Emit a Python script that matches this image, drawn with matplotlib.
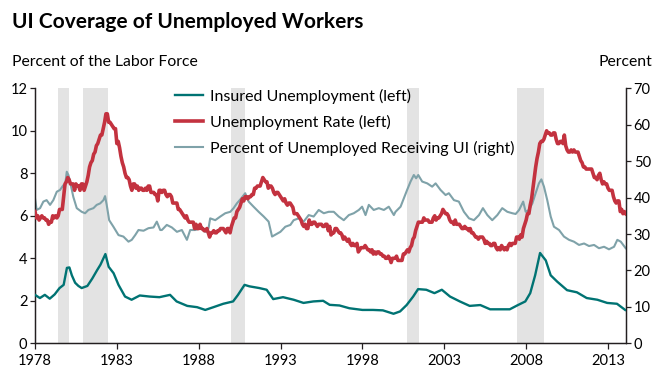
import numpy as np
import matplotlib
matplotlib.use("Agg")
import matplotlib.pyplot as plt
from matplotlib.lines import Line2D

plt.rcParams['font.family'] = ['Lato', 'DejaVu Sans']

# ---------------- data ----------------
# Unemployment rate (left axis), monthly, first point drawn at the chart's 1978 tick
unemp_start = 1978.0
unemp_rate = [
    6.2, 5.9, 6.0, 5.8, 5.9, 6.0,
    5.9, 5.9, 5.8, 5.8, 5.6, 5.7, 5.7, 6.0, 5.9, 6.0, 5.9, 6.0,
    6.3, 6.3, 6.3, 6.9, 7.5, 7.6, 7.8, 7.7, 7.5, 7.5, 7.5, 7.2,
    7.5, 7.4, 7.4, 7.2, 7.5, 7.5, 7.2, 7.4, 7.6, 7.9, 8.3, 8.5,
    8.6, 8.9, 9.0, 9.3, 9.4, 9.6, 9.8, 9.8, 10.1, 10.4, 10.8, 10.8,
    10.4, 10.4, 10.3, 10.2, 10.1, 10.1, 9.4, 9.5, 9.2, 8.8, 8.5, 8.3,
    8.0, 7.8, 7.8, 7.7, 7.4, 7.2, 7.5, 7.5, 7.3, 7.4, 7.2, 7.3,
    7.3, 7.2, 7.2, 7.3, 7.2, 7.4, 7.4, 7.1, 7.1, 7.1, 7.0, 7.0,
    6.7, 7.2, 7.2, 7.1, 7.2, 7.2, 7.0, 6.9, 7.0, 7.0, 6.9, 6.6,
    6.6, 6.6, 6.6, 6.3, 6.3, 6.2, 6.1, 6.0, 5.9, 6.0, 5.8, 5.7,
    5.7, 5.7, 5.7, 5.4, 5.6, 5.4, 5.4, 5.6, 5.4, 5.4, 5.3, 5.3,
    5.4, 5.2, 5.0, 5.2, 5.2, 5.3, 5.2, 5.2, 5.3, 5.3, 5.4, 5.4,
    5.4, 5.3, 5.2, 5.4, 5.4, 5.2, 5.5, 5.7, 5.9, 5.9, 6.2, 6.3,
    6.4, 6.6, 6.8, 6.7, 6.9, 6.9, 6.8, 6.9, 6.9, 7.0, 7.0, 7.3,
    7.3, 7.4, 7.4, 7.4, 7.6, 7.8, 7.7, 7.6, 7.6, 7.3, 7.4, 7.4,
    7.3, 7.1, 7.0, 7.1, 7.1, 7.0, 6.9, 6.8, 6.7, 6.8, 6.6, 6.5,
    6.6, 6.6, 6.5, 6.4, 6.1, 6.1, 6.1, 6.0, 5.9, 5.8, 5.6, 5.5,
    5.6, 5.4, 5.4, 5.8, 5.6, 5.6, 5.7, 5.7, 5.6, 5.5, 5.6, 5.6,
    5.6, 5.5, 5.5, 5.6, 5.6, 5.3, 5.5, 5.1, 5.2, 5.2, 5.4, 5.4,
    5.3, 5.2, 5.2, 5.1, 4.9, 5.0, 4.9, 4.8, 4.9, 4.7, 4.6, 4.7,
    4.6, 4.6, 4.7, 4.3, 4.4, 4.5, 4.5, 4.5, 4.6, 4.5, 4.4, 4.4,
    4.3, 4.4, 4.2, 4.3, 4.2, 4.3, 4.3, 4.2, 4.2, 4.1, 4.1, 4.0,
    4.0, 4.1, 4.0, 3.8, 4.0, 4.0, 4.0, 4.1, 3.9, 3.9, 3.9, 3.9,
    4.2, 4.2, 4.3, 4.4, 4.3, 4.5, 4.6, 4.9, 5.0, 5.3, 5.5, 5.7,
    5.7, 5.7, 5.7, 5.9, 5.8, 5.8, 5.8, 5.7, 5.7, 5.7, 5.9, 6.0,
    5.8, 5.9, 5.9, 6.0, 6.1, 6.3, 6.2, 6.1, 6.1, 6.0, 5.8, 5.7,
    5.7, 5.6, 5.8, 5.6, 5.6, 5.6, 5.5, 5.4, 5.4, 5.5, 5.4, 5.4,
    5.3, 5.4, 5.2, 5.2, 5.1, 5.0, 5.0, 4.9, 5.0, 5.0, 5.0, 4.9,
    4.7, 4.8, 4.7, 4.7, 4.6, 4.6, 4.7, 4.7, 4.5, 4.4, 4.5, 4.4,
    4.6, 4.5, 4.4, 4.5, 4.4, 4.6, 4.7, 4.6, 4.7, 4.7, 4.7, 5.0,
    5.0, 4.9, 5.1, 5.0, 5.4, 5.6, 5.8, 6.1, 6.1, 6.5, 6.8, 7.3,
    7.8, 8.3, 8.7, 9.0, 9.4, 9.5, 9.5, 9.6, 9.8, 10.0, 9.9, 9.9,
    9.8, 9.8, 9.9, 9.9, 9.6, 9.4, 9.4, 9.5, 9.5, 9.4, 9.8, 9.3,
    9.1, 9.0, 9.0, 9.1, 9.0, 9.1, 9.0, 9.0, 9.0, 8.8, 8.6, 8.5,
    8.3, 8.3, 8.2, 8.2, 8.2, 8.2, 8.2, 8.0, 7.8, 7.8, 7.7, 7.9,
    8.0, 7.7, 7.5, 7.6, 7.5, 7.5, 7.3, 7.2, 7.2, 7.2, 6.9, 6.7,
    6.6, 6.7, 6.7, 6.2, 6.3, 6.1, 6.2, 6.1,
]

# Insured unemployment (left axis): chart-year, value
insured_years = [
    1978.0, 1978.3, 1978.6, 1978.9, 1979.2, 1979.5, 1979.75, 1979.95, 1980.1, 1980.25,
    1980.45, 1980.65, 1980.85, 1981.2, 1981.5, 1981.8, 1982.0, 1982.3, 1982.5, 1982.8,
    1983.1, 1983.5, 1983.9, 1984.4, 1985.0, 1985.6, 1986.25, 1986.65, 1987.3, 1987.9,
    1988.4, 1988.9, 1989.5, 1990.1, 1990.4, 1990.8, 1991.1, 1991.7, 1992.15, 1992.55,
    1993.15, 1993.8, 1994.4, 1995.0, 1995.6, 1996.0, 1996.6, 1997.2, 1998.0, 1998.65,
    1999.25, 1999.9, 2000.3, 2000.7, 2001.1, 2001.4, 2001.9, 2002.4, 2002.85, 2003.35,
    2003.95, 2004.55, 2005.2, 2005.8, 2006.4, 2007.0, 2007.5, 2007.95, 2008.25, 2008.55,
    2008.85, 2009.2, 2009.5, 2009.9, 2010.5, 2011.1, 2011.7, 2012.35, 2012.95, 2013.55,
    2014.05,
]
insured_vals = [
    2.28, 2.13, 2.28, 2.10, 2.30, 2.60, 2.75, 3.55, 3.57, 3.20,
    2.85, 2.70, 2.60, 2.70, 3.05, 3.45, 3.70, 4.20, 3.60, 3.30,
    2.75, 2.20, 2.05, 2.25, 2.20, 2.17, 2.28, 1.97, 1.76, 1.70,
    1.57, 1.70, 1.86, 1.97, 2.28, 2.75, 2.68, 2.60, 2.52, 2.08,
    2.17, 2.05, 1.90, 1.97, 2.00, 1.81, 1.78, 1.65, 1.57, 1.57,
    1.55, 1.39, 1.50, 1.80, 2.20, 2.55, 2.52, 2.36, 2.52, 2.20,
    1.97, 1.76, 1.80, 1.60, 1.60, 1.60, 1.80, 1.97, 2.36, 3.20,
    4.25, 3.90, 3.20, 2.90, 2.50, 2.40, 2.13, 2.05, 1.90, 1.86,
    1.57,
]

# Percent of unemployed receiving UI (right axis): chart-year, value
recv_years = [
    1978.00, 1978.10, 1978.31, 1978.51, 1978.71, 1978.92, 1979.12, 1979.33, 1979.53, 1979.73,
    1979.83, 1979.94, 1980.04, 1980.14, 1980.34, 1980.55, 1980.85, 1981.06, 1981.26, 1981.57,
    1981.77, 1981.98, 1982.18, 1982.28, 1982.38, 1982.53, 1982.79, 1983.10, 1983.40, 1983.71,
    1983.91, 1984.12, 1984.32, 1984.63, 1984.93, 1985.24, 1985.44, 1985.65, 1985.75, 1986.05,
    1986.36, 1986.67, 1986.97, 1987.28, 1987.48, 1987.79, 1988.09, 1988.40, 1988.60, 1988.70,
    1989.01, 1989.32, 1989.62, 1989.93, 1990.13, 1990.33, 1990.60, 1990.84, 1991.05, 1991.35,
    1991.66, 1991.97, 1992.27, 1992.48, 1992.68, 1992.99, 1993.29, 1993.60, 1993.80, 1994.11,
    1994.41, 1994.72, 1995.02, 1995.33, 1995.64, 1995.94, 1996.25, 1996.55, 1996.86, 1997.17,
    1997.47, 1997.78, 1997.98, 1998.19, 1998.39, 1998.69, 1999.00, 1999.31, 1999.61, 1999.92,
    2000.02, 2000.33, 2000.53, 2000.73, 2000.94, 2001.14, 2001.28, 2001.41, 2001.65, 2001.96,
    2002.26, 2002.47, 2002.77, 2003.08, 2003.28, 2003.59, 2003.89, 2004.20, 2004.51, 2004.81,
    2005.12, 2005.36, 2005.63, 2005.93, 2006.24, 2006.54, 2006.85, 2007.16, 2007.36, 2007.57,
    2007.82, 2007.97, 2008.17, 2008.38, 2008.58, 2008.78, 2008.93, 2009.09, 2009.29, 2009.50,
    2009.70, 2010.01, 2010.31, 2010.62, 2010.92, 2011.23, 2011.54, 2011.84, 2012.15, 2012.45,
    2012.76, 2013.06, 2013.37, 2013.57, 2013.78, 2013.98, 2014.08,
]
recv_vals = [
    39.8, 36.6, 37.1, 38.9, 39.3, 38.0, 39.3, 41.6, 42.1, 43.4,
    43.0, 47.1, 46.2, 44.4, 40.2, 37.1, 36.1, 35.7, 36.6, 37.1,
    38.0, 38.4, 39.3, 40.4, 38.0, 33.8, 32.0, 29.7, 29.3, 27.9,
    28.4, 29.7, 31.1, 30.9, 31.6, 31.8, 33.4, 31.1, 31.1, 32.5,
    31.8, 30.6, 31.1, 28.4, 31.1, 31.1, 31.6, 30.6, 31.6, 34.3,
    33.8, 34.8, 35.7, 36.1, 37.1, 38.4, 39.8, 41.2, 38.9, 37.5,
    36.1, 34.8, 33.4, 29.3, 29.8, 30.6, 32.0, 32.5, 33.8, 34.3,
    33.4, 35.2, 34.8, 36.6, 35.7, 36.1, 36.1, 34.8, 33.8, 35.2,
    35.7, 36.6, 37.5, 35.2, 38.0, 36.6, 37.1, 36.6, 37.5, 35.2,
    36.1, 37.5, 39.8, 42.1, 44.4, 46.2, 45.3, 46.2, 44.4, 43.9,
    43.0, 43.9, 42.1, 40.7, 41.2, 39.3, 38.9, 36.1, 34.3, 33.8,
    35.2, 37.1, 35.2, 33.8, 35.2, 37.1, 36.1, 35.7, 35.5, 36.6,
    38.9, 36.1, 36.6, 38.4, 41.2, 43.9, 45.0, 43.0, 39.3, 34.8,
    32.0, 31.1, 29.3, 28.4, 27.9, 27.0, 27.4, 26.7, 27.0, 26.1,
    26.5, 25.8, 26.5, 28.4, 27.9, 26.7, 26.1,
]

# Recession shading (chart-year start, end)
recession_start = [1979.42, 1980.95, 1989.99, 2000.73, 2007.45]
recession_end = [1980.07, 1982.43, 1990.84, 2001.48, 2009.08]

xtick_years = [1978, 1983, 1988, 1993, 1998, 2003, 2008, 2013]
left_ticks = [0, 2, 4, 6, 8, 10, 12]
right_ticks = [0, 10, 20, 30, 40, 50, 60, 70]

labels = ["Insured Unemployment (left)", "Unemployment Rate (left)",
          "Percent of Unemployed Receiving UI (right)"]

# ---------------- style ----------------
C_TEAL = "#007373"
C_RED = "#c3323f"
C_GRAY = "#7fa2a9"
C_SHADE = "#e3e3e3"
C_AX = "#231f20"

W, H = 666, 385
fig = plt.figure(figsize=(W / 100, H / 100), dpi=100)
ax = fig.add_axes([35 / W, 1 - 343.3 / H, (626 - 35) / W, (343.3 - 88.3) / H])
ax2 = ax.twinx()

ax.set_xlim(1978, 2014.1)
ax.set_ylim(0, 12)
ax2.set_ylim(0, 70)

# left axis drawn on top of the right one; shading sits behind everything on ax2
ax.set_zorder(ax2.get_zorder() + 1)
ax.patch.set_visible(False)
for s, e in zip(recession_start, recession_end):
    ax2.axvspan(s, e, color=C_SHADE, lw=0, zorder=0)

x_unemp = unemp_start + np.arange(len(unemp_rate)) / 12.0

ax2.plot(recv_years, recv_vals, color=C_GRAY, lw=1.5, zorder=2, solid_joinstyle='round')
ax.plot(insured_years, insured_vals, color=C_TEAL, lw=1.7, zorder=3, solid_joinstyle='round')
ax.plot(x_unemp, unemp_rate, color=C_RED, lw=2.6, zorder=4, solid_joinstyle='round')

for a in (ax, ax2):
    a.spines['top'].set_visible(False)
    for sp in ('left', 'right', 'bottom'):
        a.spines[sp].set_color(C_AX)
        a.spines[sp].set_linewidth(0.9)

tick_fs = 10.5
ax.set_xticks(xtick_years)
ax.set_xticklabels([str(y) for y in xtick_years])
ax.set_yticks(left_ticks)
ax.set_yticklabels([str(v) for v in left_ticks])
ax2.set_yticks(right_ticks)
ax2.set_yticklabels([str(v) for v in right_ticks])
ax.tick_params(axis='x', direction='out', length=4, width=0.9, color=C_AX,
               labelsize=tick_fs, labelcolor='black', pad=4)
ax.tick_params(axis='y', direction='out', length=3.5, width=0.9, color=C_AX,
               labelsize=tick_fs, labelcolor='black', pad=2)
ax2.tick_params(axis='y', direction='out', length=3.5, width=0.9, color=C_AX,
                labelsize=tick_fs, labelcolor='black', pad=2)

# ---------------- text ----------------
fig.text(12 / W, 1 - 28 / H, "UI Coverage of Unemployed Workers", fontsize=15.0,
         fontweight='bold', ha='left', va='baseline', color='black')
fig.text(12 / W, 1 - 66 / H, "Percent of the Labor Force", fontsize=11.3,
         ha='left', va='baseline', color='black')
fig.text(652 / W, 1 - 66 / H, "Percent", fontsize=11.3,
         ha='right', va='baseline', color='black')

handles = [Line2D([], [], color=C_TEAL, lw=1.7),
           Line2D([], [], color=C_RED, lw=2.6),
           Line2D([], [], color=C_GRAY, lw=1.5)]
leg = ax.legend(handles, labels, loc='upper left',
                bbox_to_anchor=(175 / W, 1 - 89 / H), bbox_transform=fig.transFigure,
                frameon=False, fontsize=11.5, handlelength=1.75, handletextpad=0.45,
                labelspacing=0.68, borderpad=0, borderaxespad=0)

fig.savefig("out.png", dpi=100)
